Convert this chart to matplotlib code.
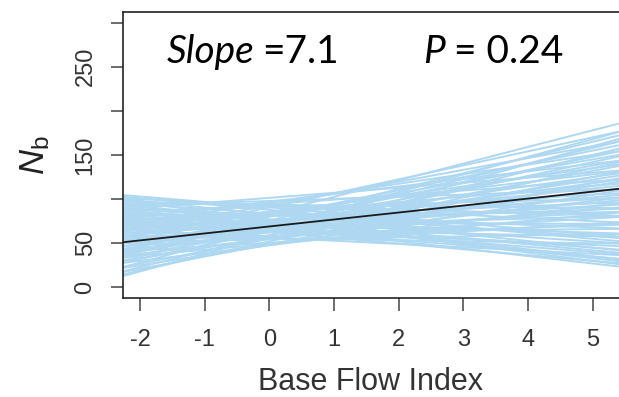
import numpy as np
import matplotlib.pyplot as plt

plt.rcParams['font.family'] = 'Liberation Sans'
plt.rcParams['mathtext.fontset'] = 'custom'
plt.rcParams['mathtext.it'] = 'Liberation Sans:italic'
plt.rcParams['mathtext.rm'] = 'Liberation Sans'

# posterior regression lines: value at x = -2 and at x = 5
x_pair = [-2, 5]
y_at_m2 = [103, 100, 98, 95, 93, 92, 90, 88, 87, 85, 84, 82, 81, 80, 78, 77, 76, 75, 74, 73,
           72, 71, 70, 69, 68, 67, 66, 65, 64, 63, 62, 61, 60, 59, 58, 57, 56, 55, 54, 53,
           52, 51, 50, 49, 48, 47, 46, 45, 44, 43, 42, 41, 40, 38, 37, 36, 35, 33, 32, 30,
           28, 27, 25, 23, 21, 19, 18, 96, 86, 79, 89, 101, 97, 91, 83, 94]
y_at_5 = [60, 75, 45, 90, 110, 35, 130, 68, 100, 52, 120, 85, 40, 140, 62, 105, 30, 95, 150, 72,
          115, 48, 88, 128, 58, 100, 160, 80, 38, 135, 92, 66, 112, 170, 50, 84, 145, 102, 70, 125,
          60, 96, 155, 118, 78, 138, 178, 88, 108, 148, 72, 122, 165, 98, 132, 82, 158, 115, 142, 92,
          168, 125, 105, 150, 118, 135, 160, 30, 27, 35, 42, 55, 82, 33, 45, 58]
# mean fitted line
mean_line = [53.2, 108.5]

x_ticks = [-2, -1, 0, 1, 2, 3, 4, 5]
y_ticks = [0, 50, 100, 150, 200, 250, 300]
y_tick_labels = ['0', '50', '', '150', '', '250', '']

W, H = 619, 397
fig = plt.figure(figsize=(W / 100, H / 100), dpi=100)
ax = fig.add_axes([123 / W, 1 - 298 / H, 1 - 123 / W, (298 - 12) / H])

for a, b in zip(y_at_m2, y_at_5):
    ax.axline((x_pair[0], a), (x_pair[1], b), color='#aed8f1', lw=1.4, zorder=1)
ax.axline((x_pair[0], mean_line[0]), (x_pair[1], mean_line[1]), color='#1a1a1a', lw=1.3, zorder=3)

ax.set_xlim(-2.263, 5.406)
ax.set_ylim(-12.1, 312.1)
ax.set_xticks(x_ticks)
ax.set_xticklabels([str(t) for t in x_ticks])
ax.set_yticks(y_ticks)
ax.set_yticklabels(y_tick_labels, rotation=90, va='center')

ax.spines['right'].set_visible(False)
for s in ['left', 'top', 'bottom']:
    ax.spines[s].set_linewidth(1.2)
    ax.spines[s].set_color('#222222')
ax.tick_params(length=9, width=1.1, color='#444444', labelsize=17, labelcolor='#333333', pad=13)
ax.tick_params(axis='y', pad=10)

ax.set_xlabel('Base Flow Index', fontsize=22, color='#333333', labelpad=12)
ax.set_ylabel(r'$N_{\mathrm{b}}$', fontsize=25, color='#222222', labelpad=16)

tx = dict(fontsize=28, family='Lato', va='baseline', color='black')
base = 1 - 62.7 / H
fig.text(167 / W, base, 'Slope', style='italic', **tx)
fig.text(262 / W, base, '=7.1', **tx)
fig.text(423 / W, base, 'P', style='italic', **tx)
fig.text(454 / W, base, '= 0.24', **tx)

fig.savefig('out.png', dpi=100)
